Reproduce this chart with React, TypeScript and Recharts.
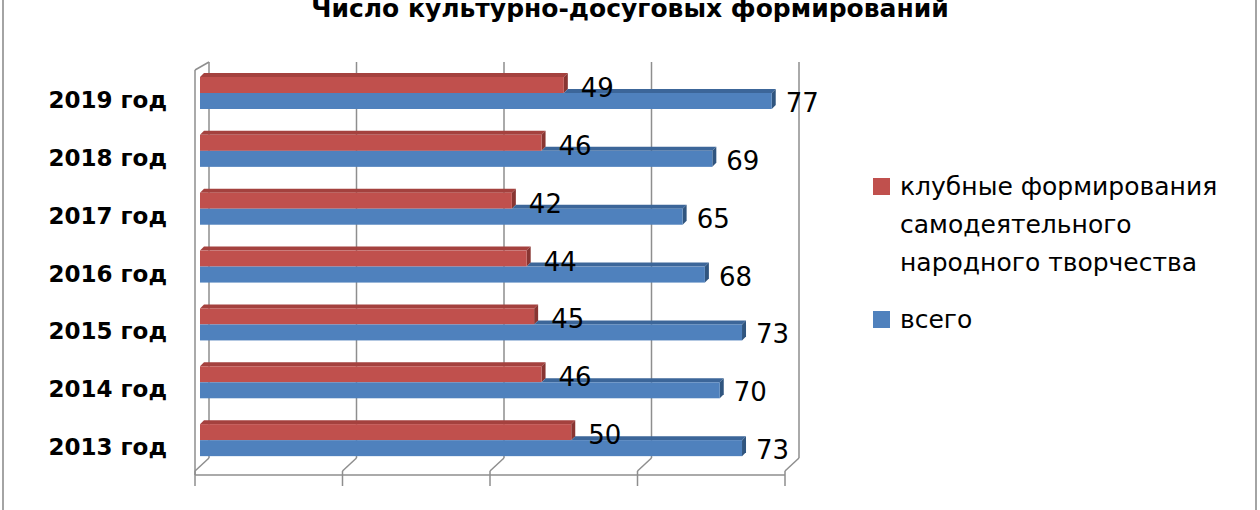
import { BarChart, Bar, XAxis, YAxis, CartesianGrid, LabelList } from 'recharts';

const years = ['2019 год', '2018 год', '2017 год', '2016 год', '2015 год', '2014 год', '2013 год'];
const clubValues = [49, 46, 42, 44, 45, 46, 50];
const totalValues = [77, 69, 65, 68, 73, 70, 73];
const xTicks = [0, 20, 40, 60, 80];

const clubName = 'клубные формирования самодеятельного народного творчества';
const clubLegendLines = ['клубные формирования', 'самодеятельного', 'народного творчества'];
const totalName = 'всего';
const title = 'Число культурно-досуговых формирований';

const data = years.map((year, i) => ({ year, club: clubValues[i], total: totalValues[i] }));

const FONT = '"DejaVu Sans", sans-serif';
const GRID = '#8e8e8e';

const COLORS = {
  club: { face: '#c0504d', top: '#a4413e', side: '#883532' },
  total: { face: '#4f81bd', top: '#3c6699', side: '#30557f' },
};

// 3D look: back wall is shifted right/up from the front edge
const PLOT_LEFT = 200;
const PLOT_RIGHT = 794;
const BACK_DX = 9;
const FRONT_DX = -5;
const BACK_BOTTOM = 458;
const FRONT_AXIS_Y = 475;

const mapX = (x: number, base: number) => base + (x - PLOT_LEFT) * (590 / (PLOT_RIGHT - PLOT_LEFT));

const renderGridLine = (props: any) => {
  const { x1, y1, index } = props;
  const backX = mapX(x1, PLOT_LEFT + BACK_DX);
  const frontX = mapX(x1, PLOT_LEFT + FRONT_DX);
  return (
    <g key={`grid-${index}`}>
      <line x1={backX} y1={y1 - 2} x2={backX} y2={BACK_BOTTOM} stroke={GRID} strokeWidth={1.5} />
      <line x1={backX} y1={BACK_BOTTOM} x2={frontX} y2={FRONT_AXIS_Y - 4} stroke={GRID} strokeWidth={1.5} />
      <line x1={frontX} y1={FRONT_AXIS_Y - 4} x2={frontX} y2={FRONT_AXIS_Y + 11} stroke={GRID} strokeWidth={1.5} />
      {index === 0 && (
        <>
          <line x1={frontX} y1={y1 + 6} x2={frontX} y2={FRONT_AXIS_Y} stroke={GRID} strokeWidth={1.5} />
          <line x1={frontX} y1={y1 + 6} x2={backX} y2={y1 - 2} stroke={GRID} strokeWidth={1.5} />
          <line
            x1={frontX}
            y1={FRONT_AXIS_Y}
            x2={mapX(PLOT_RIGHT, PLOT_LEFT + FRONT_DX)}
            y2={FRONT_AXIS_Y}
            stroke={GRID}
            strokeWidth={1.5}
          />
        </>
      )}
    </g>
  );
};

const D = 4;

const Bar3D = (props: any) => {
  const { x, y, width, height, payload, kind } = props;
  if (!width || width <= 0) return null;
  const c = kind === 'club' ? COLORS.club : COLORS.total;
  // the blue top face is hidden behind the red bar in front of it
  const topStart = kind === 'club' ? x : x + (width * payload.club) / payload.total;
  return (
    <g>
      <polygon
        points={`${topStart},${y} ${topStart + D},${y - D} ${x + width + D},${y - D} ${x + width},${y}`}
        fill={c.top}
      />
      <polygon
        points={`${x + width},${y} ${x + width + D},${y - D} ${x + width + D},${y + height - D} ${x + width},${y + height}`}
        fill={c.side}
      />
      <rect x={x} y={y} width={width} height={height} fill={c.face} />
    </g>
  );
};

const makeValueLabel = (dx: number, dy: number) => (props: any) => {
  const { x, y, width, height, value } = props;
  return (
    <text
      x={x + width + dx}
      y={y + height / 2 + dy}
      dominantBaseline="central"
      fontFamily={FONT}
      fontSize={26}
      fill="#000"
    >
      {value}
    </text>
  );
};

const renderYTick = (props: any) => {
  const { y, payload } = props;
  return (
    <text
      x={167}
      y={y + 7}
      textAnchor="end"
      dominantBaseline="central"
      fontFamily={FONT}
      fontWeight="bold"
      fontSize={23}
      fill="#000"
    >
      {payload.value}
    </text>
  );
};

// x ticks exist only to place grid lines; no labels are shown
const renderNoTick = () => <g />;

const legendSquare = (color: string, top: number) => (
  <div style={{ position: 'absolute', left: 873, top, width: 17, height: 17, background: color }} />
);

export default function App() {
  return (
    <div
      style={{
        position: 'absolute',
        left: 0,
        top: 0,
        width: 1260,
        height: 510,
        overflow: 'hidden',
        background: '#fff',
        fontFamily: FONT,
      }}
    >
      <div
        style={{
          position: 'absolute',
          left: 2,
          top: -10,
          width: 1251,
          height: 540,
          border: '2px solid #a4a4a4',
        }}
      />
      <div
        style={{
          position: 'absolute',
          left: 0,
          top: -4,
          width: 1260,
          textAlign: 'center',
          fontSize: 25,
          lineHeight: '25px',
          fontWeight: 'bold',
        }}
      >
        {title}
      </div>
      <div style={{ position: 'absolute', left: 0, top: 0 }}>
        <BarChart
          width={1260}
          height={510}
          data={data}
          layout="vertical"
          margin={{ top: 64, right: 1260 - PLOT_RIGHT, bottom: 0, left: 0 }}
          barGap={0}
          barSize={16}
        >
          <CartesianGrid horizontal={false} vertical={renderGridLine} />
          <XAxis
            type="number"
            domain={[0, 80]}
            ticks={xTicks}
            interval={0}
            axisLine={false}
            tickLine={false}
            tick={renderNoTick}
            height={41}
          />
          <YAxis
            type="category"
            dataKey="year"
            width={PLOT_LEFT}
            axisLine={false}
            tickLine={false}
            tick={renderYTick}
          />
          <Bar
            dataKey="club"
            name={clubName}
            fill={COLORS.club.face}
            isAnimationActive={false}
            shape={(p: any) => <Bar3D {...p} kind="club" />}
          >
            <LabelList dataKey="club" content={makeValueLabel(17, 3)} />
          </Bar>
          <Bar
            dataKey="total"
            name={totalName}
            fill={COLORS.total.face}
            isAnimationActive={false}
            shape={(p: any) => <Bar3D {...p} kind="total" />}
          >
            <LabelList dataKey="total" content={makeValueLabel(14, 2)} />
          </Bar>
        </BarChart>
      </div>
      {legendSquare(COLORS.club.face, 178)}
      <div
        style={{
          position: 'absolute',
          left: 900,
          top: 168,
          fontSize: 25,
          lineHeight: '38px',
          color: '#000',
        }}
      >
        {clubLegendLines.map((line) => (
          <div key={line}>{line}</div>
        ))}
      </div>
      {legendSquare(COLORS.total.face, 311)}
      <div
        style={{
          position: 'absolute',
          left: 900,
          top: 301,
          fontSize: 25,
          lineHeight: '38px',
          color: '#000',
        }}
      >
        {totalName}
      </div>
    </div>
  );
}
